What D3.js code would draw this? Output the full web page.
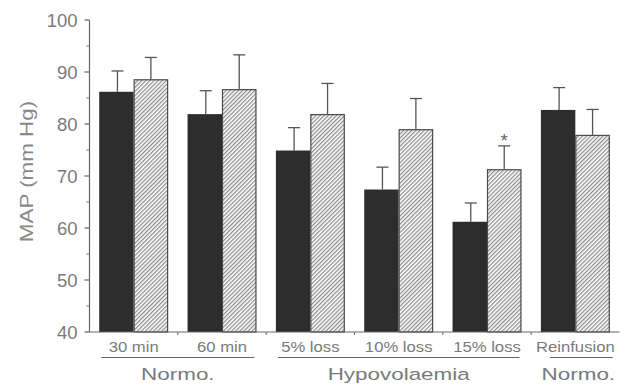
<!DOCTYPE html>
<html><head><meta charset="utf-8">
<script src="https://cdn.jsdelivr.net/npm/d3@7"></script>
<style>
html,body{margin:0;padding:0;background:#fff;}
svg{display:block;}
text{font-family:"Liberation Sans",Arial,Helvetica,sans-serif;}
</style></head>
<body>
<svg id="chart" width="628" height="387"></svg>
<script>
// ---- data ----
const categories = ["30 min","60 min","5% loss","10% loss","15% loss","Reinfusion"];
const solidMeans = [86.2, 81.9, 74.9, 67.4, 61.2, 82.7];
const solidErr   = [4.0, 4.5, 4.4, 4.3, 3.6, 4.3];
const hatchMeans = [88.6, 86.7, 81.9, 79.0, 71.3, 77.9];
const hatchErr   = [4.2, 6.6, 5.9, 5.9, 4.5, 4.9];
const yTicks = [40, 50, 60, 70, 80, 90, 100];
const yMinorTicks = [45, 55, 65, 75, 85, 95];
const groups = [
  {label:"Normo.", from:0, to:1},
  {label:"Hypovolaemia", from:2, to:4},
  {label:"Normo.", from:5, to:5}
];
const significant = [false, false, false, false, true, false];
const yLabel = "MAP (mm Hg)";

// ---- layout ----
const svg = d3.select("#chart");
const mLeft = 89.5, mRight = 619.5, mTop = 20, mBottom = 332;
const x = d3.scaleBand().domain(categories).range([mLeft, mRight]).paddingInner(0.22).paddingOuter(0.11);
const bw = x.bandwidth()/2;
const y = d3.scaleLinear().domain([40, 100]).range([mBottom, mTop]);
const axisCol = "#666", textCol = "#7a7a7a";

// hatch pattern
const defs = svg.append("defs");
const pat = defs.append("pattern").attr("id","hatch").attr("patternUnits","userSpaceOnUse")
  .attr("width", 2.9).attr("height", 10).attr("patternTransform","rotate(45)");
pat.append("rect").attr("width",2.9).attr("height",10).attr("fill","#fff");
pat.append("line").attr("x1",0.7).attr("x2",0.7).attr("y1",0).attr("y2",10)
  .attr("stroke","#5a5a5a").attr("stroke-width",0.9);

// bars
const g = svg.append("g");
categories.forEach((c,i)=>{
  const x0 = x(c);
  g.append("rect").attr("x", x0).attr("y", y(solidMeans[i]))
    .attr("width", bw).attr("height", y(40)-y(solidMeans[i]))
    .attr("fill","#2d2d2d");
  g.append("rect").attr("x", x0+bw+0.5).attr("y", y(hatchMeans[i])+0.5)
    .attr("width", bw-1).attr("height", y(40)-y(hatchMeans[i])-0.5)
    .attr("fill","url(#hatch)").attr("stroke","#4a4a4a").attr("stroke-width",1.2);
});

// error bars
function errBar(cx, m, e){
  g.append("line").attr("x1",cx).attr("x2",cx).attr("y1",y(m)).attr("y2",y(m+e))
    .attr("stroke","#555").attr("stroke-width",1.3);
  g.append("line").attr("x1",cx-6).attr("x2",cx+6).attr("y1",y(m+e)).attr("y2",y(m+e))
    .attr("stroke","#555").attr("stroke-width",1.3);
}
categories.forEach((c,i)=>{
  errBar(x(c)+bw/2+1, solidMeans[i], solidErr[i]);
  errBar(x(c)+bw*1.5, hatchMeans[i], hatchErr[i]);
  if (significant[i]) {
    g.append("text").attr("x", x(c)+bw*1.5).attr("y", y(hatchMeans[i]+hatchErr[i]) + 1)
      .attr("text-anchor","middle").attr("font-size",19).attr("fill","#666").text("*");
  }
});

// y axis
const yAxis = svg.append("g");
yAxis.append("line").attr("x1",mLeft).attr("x2",mLeft).attr("y1",y(100)).attr("y2",y(40))
  .attr("stroke",axisCol).attr("stroke-width",1.2);
yTicks.forEach(t=>{
  yAxis.append("line").attr("x1",mLeft-5).attr("x2",mLeft).attr("y1",y(t)).attr("y2",y(t))
    .attr("stroke",axisCol).attr("stroke-width",1.2);
  yAxis.append("text").attr("x",77.5).attr("y",y(t)+6.5).attr("text-anchor","end")
    .attr("font-size",18.5).attr("fill",textCol).text(t);
});
yMinorTicks.forEach(t=>{
  yAxis.append("line").attr("x1",mLeft-3).attr("x2",mLeft).attr("y1",y(t)).attr("y2",y(t))
    .attr("stroke",axisCol).attr("stroke-width",1);
});
svg.append("text").attr("transform","translate(33,171.5) rotate(-90) scale(1.28,1)")
  .attr("text-anchor","middle").attr("font-size",17.5).attr("fill","#888").text(yLabel);

// x axis
const xAxis = svg.append("g");
xAxis.append("line").attr("x1",mLeft).attr("x2",mRight).attr("y1",mBottom).attr("y2",mBottom)
  .attr("stroke",axisCol).attr("stroke-width",1.2);
const step = x.step();
categories.forEach((c,i)=>{
  if (i>0) {
    const bx = x(c) - x.paddingOuter()*step;
    xAxis.append("line").attr("x1",bx).attr("x2",bx).attr("y1",mBottom).attr("y2",mBottom+3)
      .attr("stroke",axisCol).attr("stroke-width",1);
  }
  const cx = x(c)+x.bandwidth()/2;
  xAxis.append("text").attr("transform",`translate(${cx},351.5) scale(1.15,1)`)
    .attr("text-anchor","middle").attr("font-size",14.5).attr("fill",textCol).text(c);
});

// group labels
groups.forEach(gr=>{
  const single = gr.from === gr.to;
  const x0 = x(categories[gr.from]) + (single ? 9 : 2);
  const x1 = x(categories[gr.to]) + x.bandwidth() + (single ? 3 : -2);
  svg.append("line").attr("x1",x0).attr("x2",x1).attr("y1",357.5).attr("y2",357.5)
    .attr("stroke","#666").attr("stroke-width",1.2);
  const cx = (x(categories[gr.from]) + x(categories[gr.to]) + x.bandwidth())/2;
  svg.append("text").attr("transform",`translate(${cx + (single?3:0)},380) scale(1.32,1)`)
    .attr("text-anchor","middle").attr("font-size",17).attr("fill",textCol).text(gr.label);
});
</script>
</body></html>
